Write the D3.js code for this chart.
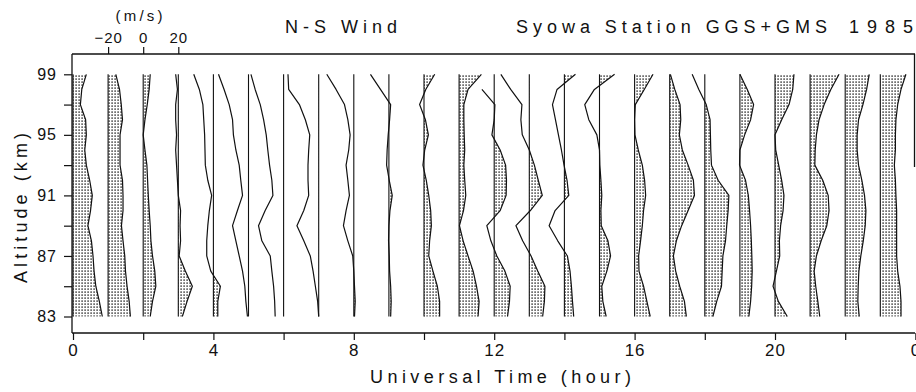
<!DOCTYPE html>
<html>
<head>
<meta charset="utf-8">
<script src="https://cdn.jsdelivr.net/npm/d3@7"></script>
<style>
  html, body { margin: 0; padding: 0; background: #fff; }
  svg { display: block; font-family: "Liberation Sans", Arial, sans-serif; }
</style>
</head>
<body>
<svg id="chart" width="916" height="392"></svg>
<script>
// ---------------- data ----------------
const altitudes = [99, 98, 97, 96, 95, 94, 93, 92, 91, 90, 89, 88, 87, 86, 85, 84, 83]; // km
const hours = d3.range(0, 24); // UT hour of each profile
// N-S wind (m/s), one array per hour, ordered from 99 km down to 83 km
const u00 = [7.6, 5, 4.2, 7.2, 7.6, 6.7, 7.6, 9.5, 11, 10, 8.5, 10.5, 11.4, 12, 13, 15, 16.7];
const u01 = [4.4, 6.5, 7.5, 8.2, 6.8, 6.8, 6.8, 8.2, 8.5, 8.5, 7.6, 8.5, 9.5, 9.9, 10.8, 12, 12.7];
const u02 = [4, 3.4, 2.3, 1, 0, 1, 2.1, 2.5, 2.9, 3.4, 4, 4.4, 5.3, 6.6, 7.2, 5.3, 4];
const u03 = [-1.5, -0.5, -1.5, -1.5, -1, -1.5, -1, -0.5, 0, 1.3, 1, 1.3, 0.5, 4, 8, 5, 2.3];
const u04 = [-11.2, -8, -6, -5.5, -5, -4.8, -4.6, -3.2, -1, -2.3, -3.2, -3.8, -3.8, -1.5, 4, 2.5, 2.5];
const u05 = [-17.1, -13.9, -11, -9.1, -8.6, -7.2, -5.3, -4.4, -3.4, -6.3, -9.1, -7.2, -5.3, -3.4, -2.1, -1.5, -0.6];
const u06 = [-18.6, -16.2, -13.3, -11.4, -9.9, -9, -8, -6.7, -6.1, -10.5, -14.3, -12.4, -7.6, -6.7, -5.7, -5.1, -4.8];
const u07 = [-17.5, -17.1, -11, -7.6, -5.1, -5.7, -6.1, -6.1, -5.7, -8.5, -12.4, -8.5, -4.8, -3.2, -1.9, -0.6, 0];
const u08 = [-15.4, -10.1, -5.3, -3.4, -2.1, -2.9, -4.4, -3.4, -2.5, -4.4, -5.9, -3.4, -0.6, 0, 0.4, 0.8, 0.4];
const u09 = [-10.5, -4.8, 1, 0.4, -0.4, -1, -1.3, 0.2, 1.9, 0.6, 0, -0.2, 0.2, 0.4, 1, 1.3, 1];
const u10 = [6.1, 1, -2.5, 0.8, 2.5, 0.4, -0.6, 1.3, 2.7, 3.8, 4.2, 3.2, 2.7, 5.1, 7.6, 8.9, 8.9];
const u11 = [12.7, 5.1, 2.7, 2.7, 2.9, 3.2, 2.7, 3.2, 3.8, 2.5, 0.2, 2.3, 5.1, 8, 9.9, 11.4, 10.8];
const u12 = [null, -7, 0.4, 0, -1.3, 3.4, 6.5, 7, 6.8, 3.4, -4.2, -1.9, 1.5, 6.1, 9.1, 8.7, 7.6];
const u13 = [-16.2, -10.6, -4.2, -4.8, -4, 0, 2.9, 5.1, 7.4, 0.6, -7.6, -3.8, 1, 4.8, 8.9, 8.6, 7.6];
const u14 = [6.3, -4.2, -6.8, -5.1, -3.4, -1.7, -0.2, 1.5, 2.5, -5.3, -8.7, -3.8, 1.7, 3.2, 4, 4.6, 5.3];
const u15 = [8.6, -2.9, -8.4, -6.1, -1.5, 0, 0.2, 0.8, 1.3, 0.8, 1, 4.8, 6.3, 4.2, 1.3, 1.9, 3.8];
const u16 = [10.5, 5.5, 0.4, 0, 0.2, 2.1, 4.4, 5.7, 6.3, 5.1, 4.4, 3.4, 2.3, 2.5, 5.1, 7, 8.9];
const u17 = [0.4, 2.9, 5.9, 6.3, 5.5, 7.2, 10.5, 13.5, 14.1, 10.5, 6.8, 3.8, 2.1, 3.4, 5.7, 8.4, 9.5];
const u18 = [-7.2, -3.4, 0.8, 3, 3.2, 3.4, 3.8, 7.6, 13.7, 13.3, 12.5, 11.8, 10.3, 9.9, 9.5, 6.8, 4.6];
const u19 = [0, 4.2, 7.8, 6.1, 2.7, 0, -0.2, 3.2, 4.8, 5.5, 6.1, 6.5, 6.8, 7, 6.7, 6.1, 5.1];
const u20 = [10.8, 10.1, 8, 3.8, 0, 0.4, 2.1, 3.8, 5.1, 4.6, 3.2, 2.5, 2.7, 0.8, -1.1, 1.9, 7];
const u21 = [16.5, 11.8, 8, 5.1, 3.6, 2.9, 2.7, 7.2, 10.3, 10.8, 9.5, 6.3, 3.6, 2.3, 3.2, 4.4, 5.5];
const u22 = [13.7, 12.2, 10.1, 7.6, 6.8, 6.8, 7.6, 9.5, 11, 11.8, 11.4, 10.3, 8.9, 7.8, 7.4, 7.2, 8];
const u23 = [14.6, 11.8, 9.9, 8.9, 8.6, 8.6, 8, 8.6, 8.9, 9.3, 9.3, 9.3, 9.3, 9.9, 11.2, 11.8, 11.8];
const profiles = [u00,u01,u02,u03,u04,u05,u06,u07,u08,u09,u10,u11,u12,u13,u14,u15,u16,u17,u18,u19,u20,u21,u22,u23];

const altTicks = [83, 85, 87, 89, 91, 93, 95, 97, 99];
const altLabels = [83, 87, 91, 95, 99];
const timeTicks = [0, 2, 4, 6, 8, 10, 12, 14, 16, 18, 20, 22, 24];
const timeLabels = [0, 4, 8, 12, 16, 20, 24];
const windTicks = [-20, 0, 20];
const windRefHour = 2;

const titleLeft = "N-S Wind";
const titleRight = "Syowa Station GGS+GMS";
const titleYear = "1985";
const xTitle = "Universal Time (hour)";
const yTitle = "Altitude (km)";
const windUnit = "(m/s)";

// ---------------- layout ----------------
const svg = d3.select("#chart");
const FONT = '"Liberation Sans", Arial, sans-serif';
const frame = { left: 72, right: 915, top: 54, bottom: 333 };

const xTime = d3.scaleLinear().domain([0, 24]).range([73, 915.4]);
const yAlt = d3.scaleLinear().domain([83, 99]).range([316.5, 74.3]);
const hourW = xTime(1) - xTime(0);
const uScale = d3.scaleLinear().domain([-20, 20]).range([-hourW, hourW]);

// stipple pattern
const defs = svg.append("defs");
const pat = defs.append("pattern").attr("id", "stip")
  .attr("width", 3).attr("height", 3).attr("patternUnits", "userSpaceOnUse");
pat.append("rect").attr("width", 3).attr("height", 3).attr("fill", "#fff");
pat.append("rect").attr("x", 0.4).attr("y", 0.4).attr("width", 1.4).attr("height", 1.4).attr("fill", "#222");

// frame lines
const frameG = svg.append("g").attr("stroke", "#111").attr("stroke-width", 1.3).attr("fill", "none");
frameG.append("line").attr("x1", frame.left).attr("x2", frame.right).attr("y1", frame.top).attr("y2", frame.top);
frameG.append("line").attr("x1", frame.left).attr("x2", frame.right).attr("y1", frame.bottom).attr("y2", frame.bottom);
frameG.append("line").attr("x1", frame.left).attr("x2", frame.left).attr("y1", frame.top).attr("y2", frame.bottom);
frameG.append("line").attr("x1", frame.right - 0.5).attr("x2", frame.right - 0.5).attr("y1", frame.top).attr("y2", 167);

// left axis
const yAxis = d3.axisLeft(yAlt).tickValues(altTicks).tickSize(8).tickPadding(7)
  .tickFormat(d => altLabels.includes(d) ? d : "");
const gy = svg.append("g").attr("transform", `translate(${frame.left},0)`).call(yAxis);
gy.select(".domain").remove();
gy.selectAll("line").attr("stroke", "#111").attr("stroke-width", 1.2);
gy.selectAll("text").attr("font-family", FONT).attr("font-size", 16).attr("fill", "#111")
  .attr("letter-spacing", 1);

// bottom axis
const xAxis = d3.axisBottom(xTime).tickValues(timeTicks).tickSize(7).tickPadding(4)
  .tickFormat(d => timeLabels.includes(d) ? (d % 24) : "");
const gx = svg.append("g").attr("transform", `translate(0,${frame.bottom})`).call(xAxis);
gx.select(".domain").remove();
gx.selectAll("line").attr("stroke", "#111").attr("stroke-width", 1.2);
gx.selectAll("text").attr("font-family", FONT).attr("font-size", 17).attr("fill", "#111")
  .attr("letter-spacing", 1);

// top wind-scale axis (centred on the reference hour)
const windAxisScale = d3.scaleLinear().domain([-20, 20])
  .range([xTime(windRefHour) + uScale(-20), xTime(windRefHour) + uScale(20)]);
const wAxis = d3.axisTop(windAxisScale).tickValues(windTicks).tickSize(7).tickPadding(4);
const gw = svg.append("g").attr("transform", `translate(0,${frame.top})`).call(wAxis);
gw.select(".domain").remove();
gw.selectAll("line").attr("stroke", "#111").attr("stroke-width", 1.2);
gw.selectAll("text").attr("font-family", FONT).attr("font-size", 15).attr("fill", "#111")
  .attr("letter-spacing", 1);

// profiles
const prof = svg.append("g");
hours.forEach((h, hi) => {
  const vals = profiles[hi];
  const pts = altitudes.map((z, i) => ({ z, u: vals[i] }));
  const bx = xTime(h);
  defs.append("clipPath").attr("id", "pos" + h)
    .append("rect").attr("x", bx).attr("y", 0).attr("width", hourW * 2).attr("height", 392);
  const area = d3.area().defined(d => d.u != null)
    .y(d => yAlt(d.z)).x0(bx).x1(d => bx + uScale(d.u));
  const line = d3.line().defined(d => d.u != null)
    .x(d => bx + uScale(d.u)).y(d => yAlt(d.z));
  prof.append("path").datum(pts).attr("d", area)
    .attr("fill", "url(#stip)").attr("clip-path", `url(#pos${h})`);
  prof.append("line").attr("x1", bx).attr("x2", bx)
    .attr("y1", yAlt(d3.max(altitudes))).attr("y2", yAlt(d3.min(altitudes)))
    .attr("stroke", "#111").attr("stroke-width", 1.1);
  prof.append("path").datum(pts).attr("d", line)
    .attr("fill", "none").attr("stroke", "#111").attr("stroke-width", 1.2)
    .attr("stroke-linejoin", "round");
});

// texts
const txt = (s, x, y, size, len, anchor) => {
  const t = svg.append("text").attr("x", x).attr("y", y).text(s)
    .attr("font-family", FONT).attr("font-size", size).attr("fill", "#111")
    .attr("text-anchor", anchor || "start");
  if (len) t.attr("textLength", len).attr("lengthAdjust", "spacing");
  return t;
};
txt(windUnit, 139, 21, 15, 47, "middle");
txt(titleLeft, 285, 33, 18, 112);
txt(titleRight, 516, 33, 18, 311);
txt(titleYear, 849, 33, 18, 64);
txt(xTitle, 370, 383, 18, 261);
svg.append("text").attr("transform", "translate(27,208) rotate(-90)")
  .attr("text-anchor", "middle").attr("font-family", FONT).attr("font-size", 18)
  .attr("fill", "#111").attr("textLength", 150).attr("lengthAdjust", "spacing")
  .text(yTitle);
</script>
</body>
</html>
